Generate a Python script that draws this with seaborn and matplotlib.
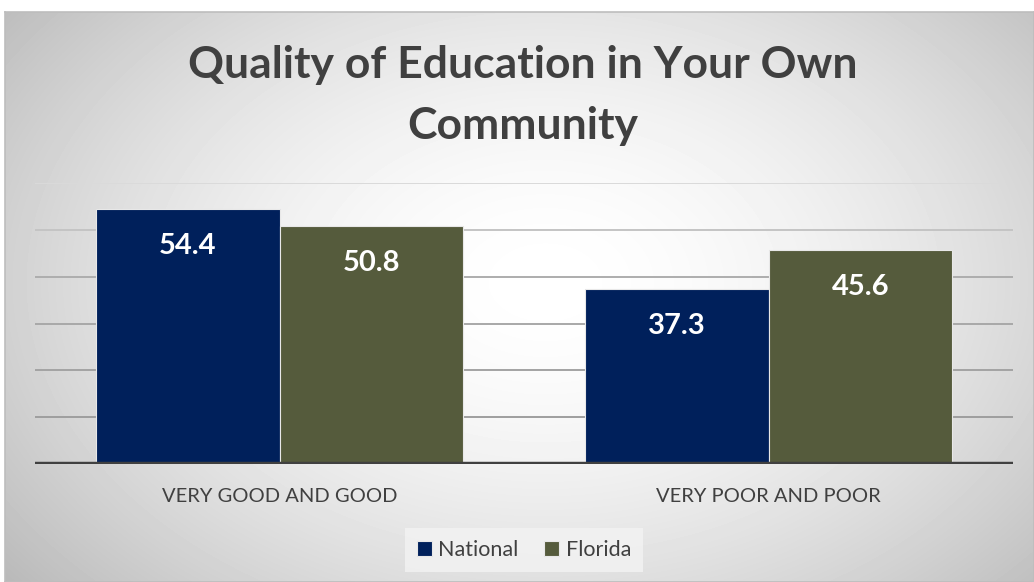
import numpy as np
import pandas as pd
import matplotlib
matplotlib.use("Agg")
import matplotlib.pyplot as plt
import seaborn as sns

# Survey results (percent)
categories = ["VERY GOOD AND GOOD", "VERY POOR AND POOR"]
national = [54.4, 37.3]
florida = [50.8, 45.6]
series_names = ["National", "Florida"]
colors = {"National": "#00205B", "Florida": "#555B3C"}

df = pd.DataFrame({
    "category": categories * 2,
    "value": national + florida,
    "series": [series_names[0]] * len(categories) + [series_names[1]] * len(categories),
})

sns.set_theme(style="white")
plt.rcParams["font.family"] = ["Lato", "DejaVu Sans"]

W, H = 1034, 582
fig = plt.figure(figsize=(W / 100, H / 100), dpi=100)
fig.patch.set_facecolor("white")

# Radial-gradient panel behind the chart
bg = fig.add_axes([5 / W, 0, 1 - 5 / W, 1 - 12 / H], zorder=0)
yy, xx = np.mgrid[0:570, 0:1029]
cx, cy = 540, 270
r = np.sqrt(((xx - cx) / 640.0) ** 2 + ((yy - cy) / 440.0) ** 2)
shade = 1.0 - 0.24 * np.clip(r, 0, 1.3) ** 1.7
bg.imshow(shade, cmap="gray", vmin=0, vmax=1, aspect="auto",
          extent=[0, 1, 0, 1], origin="upper", interpolation="bilinear")
bg.set_xlim(0, 1)
bg.set_ylim(0, 1)
bg.set_xticks([])
bg.set_yticks([])
for s in bg.spines.values():
    s.set_color("#bdbdbd")
    s.set_linewidth(1.2)

ax = fig.add_axes([35 / W, 1 - 464 / H, (1013 - 35) / W, (464 - 183) / H], zorder=1)
ax.patch.set_alpha(0)

sns.barplot(data=df, x="category", y="value", hue="series", palette=colors,
            width=0.75, ax=ax, saturation=1, edgecolor="#e8e8e8", linewidth=0.8,
            zorder=3)

ax.set_ylim(0, 60)
ax.set_xlim(-0.5, 1.5)
ax.set_yticks([])
ax.set_xlabel("")
ax.set_ylabel("")
for s in ax.spines.values():
    s.set_visible(False)

grid_colors = {10: "#9e9e9e", 20: "#a3a3a3", 30: "#a8a8a8", 40: "#adadad",
               50: "#c4c4c4", 60: "#dadada"}
for v, c in grid_colors.items():
    ax.axhline(v, color=c, lw=1.4, zorder=1)
ax.axhline(0, color="#404040", lw=3.2, zorder=4)

ax.tick_params(axis="x", length=0, pad=17, labelsize=14.5, labelcolor="#404040")

for cont in ax.containers:
    ax.bar_label(cont, fmt="%.1f", label_type="edge", padding=-36,
                 color="white", fontsize=21, fontweight="bold")

handles, labels = ax.get_legend_handles_labels()
ax.legend(handles, labels, loc="center", bbox_to_anchor=(0.5, -0.305),
          ncol=2, frameon=True, facecolor="#f3f3f3", edgecolor="none",
          fontsize=15.5, handlelength=0.7, handleheight=0.7, handletextpad=0.3,
          columnspacing=1.2, labelcolor="#404040", borderpad=0.55, fancybox=False)

fig.text(523 / W, 1 - 65 / H, "Quality of Education in Your Own", ha="center",
         va="center", fontsize=32, fontweight="bold", color="#404040")
fig.text(523 / W, 1 - 126 / H, "Community", ha="center",
         va="center", fontsize=32, fontweight="bold", color="#404040")

fig.savefig("out.png", dpi=100)
